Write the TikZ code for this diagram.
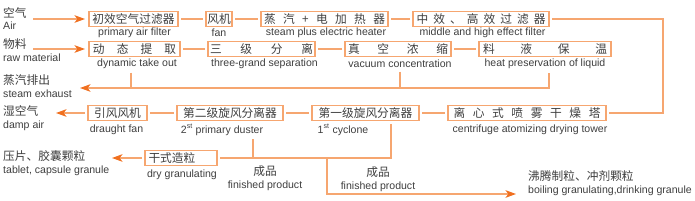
\documentclass[tikz,border=0pt]{standalone}
\usepackage{fontspec}
\setmainfont{Liberation Sans}
\newfontfamily\cjk{Noto Sans CJK SC}
\usetikzlibrary{arrows.meta}

\definecolor{boxline}{RGB}{246,166,112}
\definecolor{arrowtip}{RGB}{240,112,32}
\definecolor{txt}{RGB}{62,62,62}

\newcommand{\cnfont}{\fontsize{10}{12}\selectfont\cjk}
\newcommand{\enfont}{\fontsize{9}{11}\selectfont}
\newcommand{\spreadcn}[2]{\makebox[#1][s]{#2}}

\begin{document}
\begin{tikzpicture}[x=0.03cm, y=-0.03cm,
    box/.style={draw=boxline, line width=0.9pt, minimum height=0.45cm,
                inner sep=0pt, font=\cnfont, text=txt},
    lbl/.style={font=\enfont, text=txt, inner sep=1pt},
    side/.style={anchor=west, align=left, font=\enfont, text=txt, inner sep=0pt},
    link/.style={draw=boxline, line width=0.9pt, shorten <=2.5pt, shorten >=2.5pt},
    pipe/.style={draw=boxline, line width=0.9pt, shorten <=2pt},
    flow/.style={draw=boxline, line width=0.9pt, shorten <=2.5pt,
                 -{Stealth[length=9pt, width=6.5pt, inset=2.5pt, color=arrowtip]}}]
  \useasboundingbox (0,0) rectangle (695,201);

  % Side texts (inputs and outputs)
  \node[side] (air) at (3,18.5) {{\cnfont 空气}\\Air};
  \node[side] (raw) at (3,50.5) {{\cnfont 物料}\\raw material};
  \node[side] (steam) at (3,86.5) {{\cnfont 蒸汽排出}\\steam exhaust};
  \node[side] (damp) at (3,118) {{\cnfont 湿空气}\\damp air};
  \node[side] (tablet) at (3,163) {{\cnfont 压片、胶囊颗粒}\\tablet, capsule granule};
  \node[side] (boil) at (528,183.5) {{\cnfont 沸腾制粒、冲剂颗粒}\\boiling granulating,drinking granule};

  % Row 1: air supply
  \node[box, minimum width=2.67cm] (filter1) at (133.5,19) {初效空气过滤器};
  \node[box, minimum width=0.78cm] (fan1) at (219,19) {风机};
  \node[box, minimum width=3.81cm] (heater) at (324.5,19) {\spreadcn{3.63cm}{蒸 汽 + 电 加 热 器}};
  \node[box, minimum width=4.08cm] (filter2) at (481,19) {\spreadcn{3.87cm}{中 效 、 高 效 过 滤 器}};
  \node[lbl] (filter1-en) at (134.5,33) {primary air filter};
  \node[lbl] (fan1-en) at (219,33) {fan};
  \node[lbl] (heater-en) at (326,33) {steam plus electric heater};
  \node[lbl] (filter2-en) at (482.5,33) {middle and high effect filter};

  % Row 2: liquid side
  \node[box, minimum width=2.73cm] (takeout) at (134.5,49) {\spreadcn{2.49cm}{动 态 提 取}};
  \node[box, minimum width=3.21cm] (separate) at (261.5,49) {\spreadcn{3.09cm}{三 级 分 离}};
  \node[box, minimum width=3.18cm] (vacuum) at (398,49) {\spreadcn{3.0cm}{真 空 浓 缩}};
  \node[box, minimum width=3.96cm] (keepwarm) at (545,49) {\spreadcn{3.72cm}{料 液 保 温}};
  \node[lbl] (takeout-en) at (137,64) {dynamic take out};
  \node[lbl] (separate-en) at (264.5,64) {three-grand separation};
  \node[lbl] (vacuum-en) at (400,64) {vacuum concentration};
  \node[lbl] (keepwarm-en) at (545,64) {heat preservation of liquid};

  % Row 4: drying and dust removal
  \node[box, minimum width=1.77cm] (fan2) at (117.5,113) {引风风机};
  \node[box, minimum width=3.18cm] (cyclone2) at (230,113) {第二级旋风分离器};
  \node[box, minimum width=3.21cm] (cyclone1) at (365.5,113) {第一级旋风分离器};
  \node[box, minimum width=4.74cm] (tower) at (527,113) {\spreadcn{4.41cm}{离 心 式 喷 雾 干 燥 塔}};
  \node[lbl] (fan2-en) at (116.5,130) {draught fan};
  \node[lbl] (cyclone2-en) at (222,130) {2\textsuperscript{st} primary duster};
  \node[lbl] (cyclone1-en) at (343,130) {1\textsuperscript{st} cyclone};
  \node[lbl] (tower-en) at (530,130) {centrifuge atomizing drying tower};

  % Row 5: products
  \node[box, minimum width=2.16cm] (drygran) at (181,158) {\makebox[1.95cm][l]{干式造粒}};
  \node[lbl] (drygran-en) at (182,175) {dry granulating};
  \node[lbl, align=center] (product2) at (265,178.5) {{\cnfont 成品}\\finished product};
  \node[lbl, align=center] (product1) at (378,179) {{\cnfont 成品}\\finished product};

  % Free ends and corners
  \coordinate (airin) at (33,19);
  \coordinate (rawin) at (33,49);
  \coordinate (exhout) at (80,88);
  \coordinate (dampout) at (56,113);
  \coordinate (tabout) at (112,158);
  \coordinate (turn) at (663,113);
  \coordinate (j1) at (391,158);
  \coordinate (j2) at (327,158);
  \coordinate (boilin) at (516,194);

  % Inputs
  \draw[flow, shorten <=0pt, shorten >=3pt] (airin) -- (filter1);
  \draw[flow, shorten <=0pt, shorten >=3pt] (rawin) -- (takeout);

  % Air line
  \draw[link] (filter1) -- (fan1);
  \draw[link] (fan1) -- (heater);
  \draw[link] (heater) -- (filter2);
  \draw[link] (filter2) -| (turn) -- (tower);

  % Liquid line
  \draw[link] (takeout) -- (separate);
  \draw[link] (separate) -- (vacuum);
  \draw[link] (vacuum) -- (keepwarm);

  % Steam exhaust
  \draw[pipe] ([xshift=-0.18cm]takeout-en.south) coordinate (d1) -- (d1 |- exhout);
  \draw[pipe] (vacuum-en.south) coordinate (d2) -- (d2 |- exhout);
  \draw[flow] ([xshift=0.12cm]keepwarm-en.south) |- (exhout);

  % Drying line
  \draw[link] (tower) -- (cyclone1);
  \draw[link] (cyclone1) -- (cyclone2);
  \draw[link] (cyclone2) -- (fan2);
  \draw[flow] (fan2) -- (dampout);

  % Products
  \draw[link] (cyclone1.south -| j1) -- (j1) -- (drygran);
  \draw[pipe] ([xshift=0.93cm]cyclone2-en.south) coordinate (d4) -- (d4 |- j1);
  \draw[flow, shorten <=0pt] (j2) |- (boilin);
  \draw[flow] (drygran) -- (tabout);
\end{tikzpicture}
\end{document}
